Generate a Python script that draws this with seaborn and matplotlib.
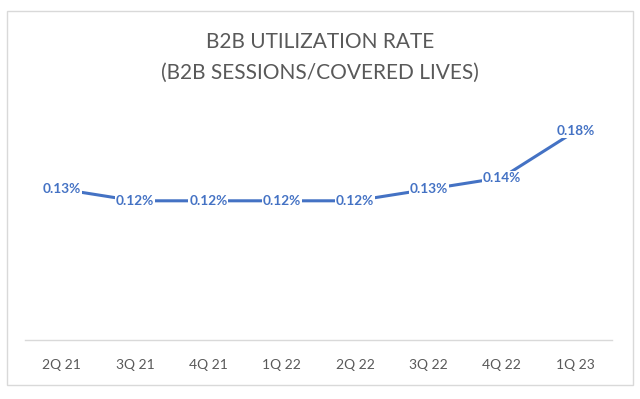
import matplotlib
matplotlib.use("Agg")
import matplotlib.pyplot as plt
import seaborn as sns
import pandas as pd
from matplotlib.patches import Rectangle

quarters = ["2Q 21", "3Q 21", "4Q 21", "1Q 22", "2Q 22", "3Q 22", "4Q 22", "1Q 23"]
rates = [0.13, 0.12, 0.12, 0.12, 0.12, 0.13, 0.14, 0.18]
labels = ["0.13%", "0.12%", "0.12%", "0.12%", "0.12%", "0.13%", "0.14%", "0.18%"]
title_lines = ["B2B UTILIZATION RATE", "(B2B SESSIONS/COVERED LIVES)"]

sns.set_theme(style="white")
plt.rcParams["font.family"] = ["Lato", "DejaVu Sans"]

df = pd.DataFrame({"quarter": quarters, "rate": rates})

fig = plt.figure(figsize=(6.4, 3.99), dpi=100)
ax = fig.add_axes([25/640, (399-340)/399, (612-25)/640, (340-108)/399])

blue = "#4472C4"
sns.lineplot(data=df, x="quarter", y="rate", ax=ax, color=blue, linewidth=2.2, sort=False)

for i, (v, t) in enumerate(zip(rates, labels)):
    ax.text(i, v, t, ha="center", va="center", color=blue, fontsize=9.8, fontweight="bold",
            bbox=dict(facecolor="white", edgecolor="none", pad=0.6), zorder=5)

ax.set_xlim(-0.5, len(quarters) - 0.5)
ax.set_ylim(0, 0.2)
ax.set_yticks([])
ax.set_xlabel("")
ax.set_ylabel("")
for s in ["top", "right", "left"]:
    ax.spines[s].set_visible(False)
ax.spines["bottom"].set_color("#D9D9D9")
ax.spines["bottom"].set_linewidth(1.0)
ax.tick_params(axis="x", length=0, pad=14, labelsize=10, labelcolor="#595959")

fig.text(0.5, 1 - 42/399, title_lines[0], ha="center", va="center", fontsize=15, color="#595959")
fig.text(0.5, 1 - 73/399, title_lines[1], ha="center", va="center", fontsize=15, color="#595959")

fig.patches.append(Rectangle((7/640, 1 - 385/399), (633-7)/640, (385-11)/399,
                             transform=fig.transFigure, fill=False, edgecolor="#D9D9D9", linewidth=1.0))

fig.savefig("out.png", dpi=100)
